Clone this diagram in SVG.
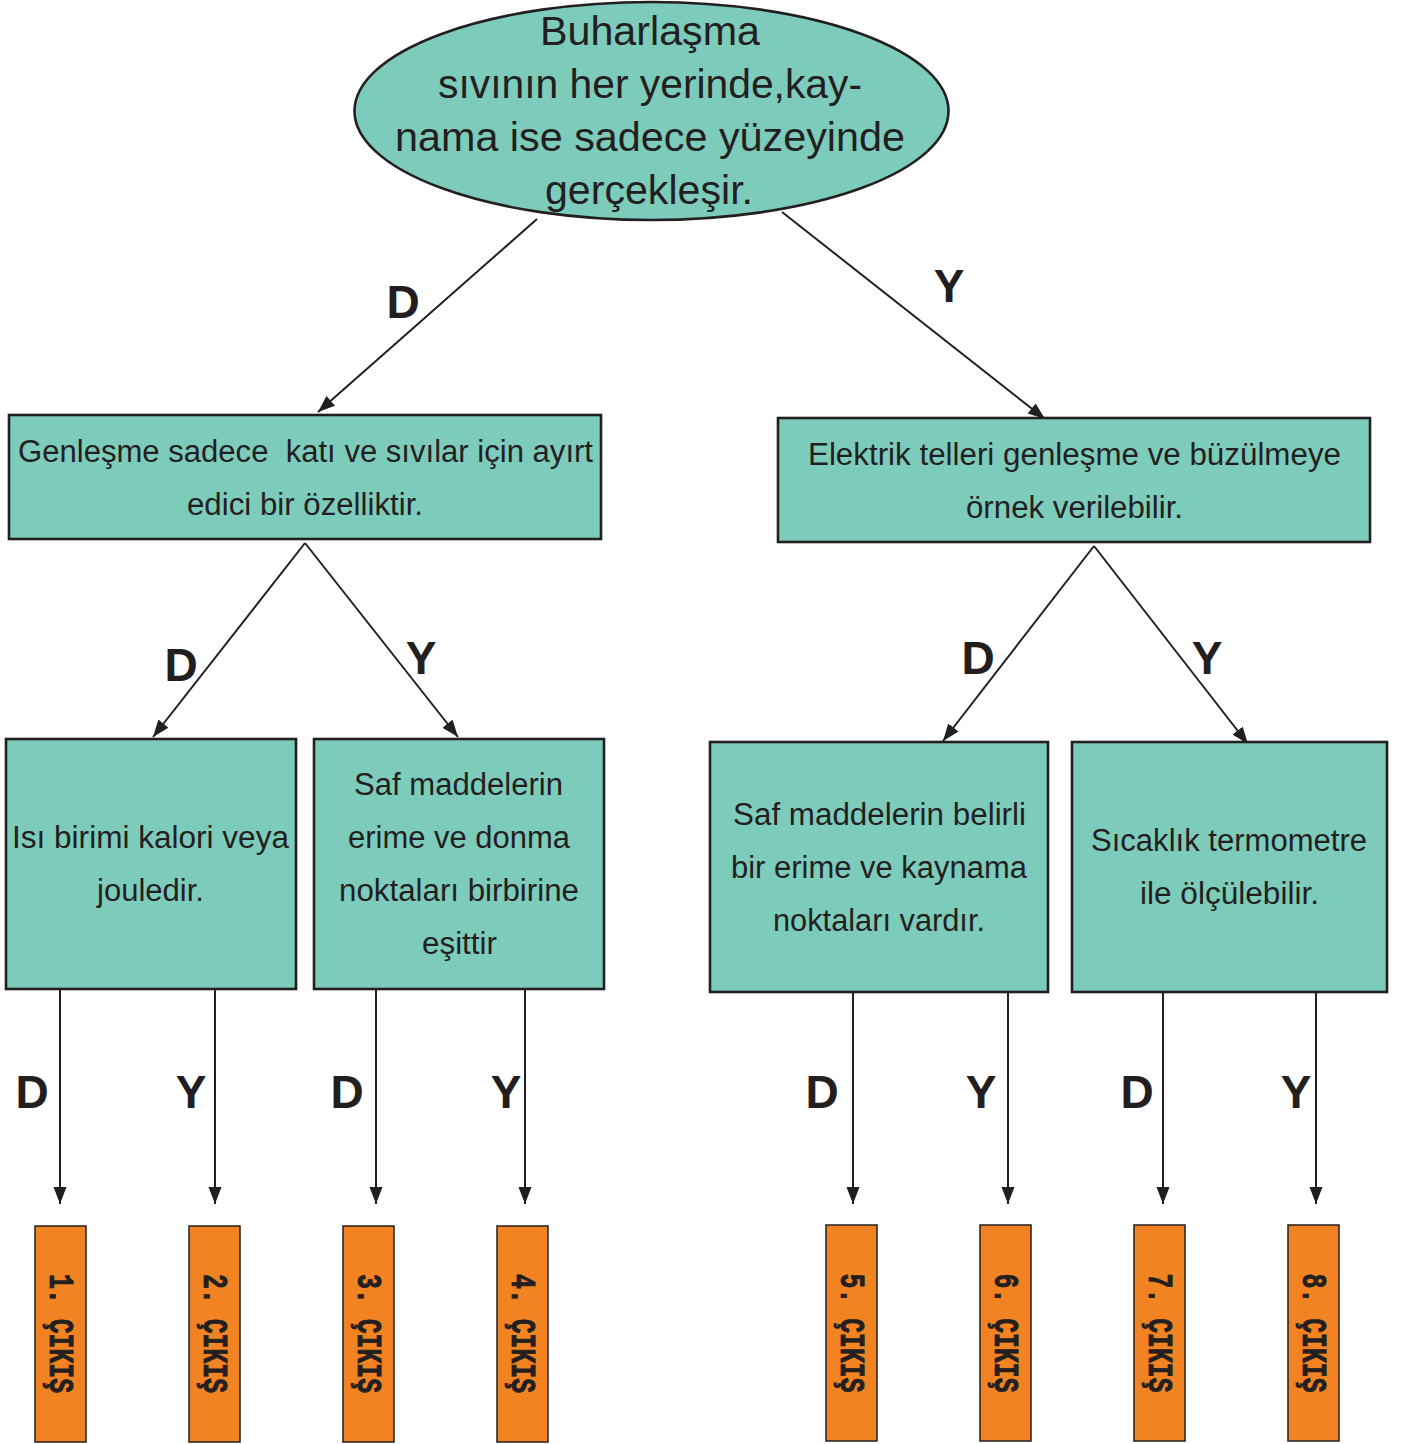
<svg xmlns="http://www.w3.org/2000/svg" width="1401" height="1444" viewBox="0 0 1401 1444">
<defs>
<style>
.n{fill:#7ccbbb;stroke:#231f20;stroke-width:2.6}
.o{fill:#f28322;stroke:#231f20;stroke-width:1.5}
.t{font-family:"Liberation Sans",Arial,sans-serif;fill:#231f20;text-anchor:middle}
.e{font-size:41px}
.b{font-size:31px}
.l{font-family:"Liberation Sans",Arial,sans-serif;font-weight:bold;font-size:46px;fill:#231f20;text-anchor:middle}
.c{font-family:"Liberation Mono","Courier New",monospace;font-weight:bold;font-size:26px;fill:#231f20;stroke:#231f20;stroke-width:0.7;text-anchor:middle}
.k{stroke:#231f20;stroke-width:2;fill:none}
</style>
<marker id="a" markerUnits="userSpaceOnUse" markerWidth="18" markerHeight="14" refX="17" refY="6.5" orient="auto"><path d="M0,0 L17,6.5 L0,13 z" fill="#231f20"/></marker>
</defs>
<rect width="1401" height="1444" fill="#fff"/>
<g id="connectors" class="k" marker-end="url(#a)">
<line x1="537" y1="219" x2="318" y2="412"/>
<line x1="782" y1="212" x2="1045" y2="419"/>
<line x1="305" y1="543" x2="153" y2="737"/>
<line x1="305" y1="543" x2="458" y2="737"/>
<line x1="1094" y1="546" x2="943" y2="741"/>
<line x1="1094" y1="546" x2="1248" y2="744"/>
<line x1="60" y1="989" x2="60" y2="1204"/>
<line x1="215" y1="989" x2="215" y2="1204"/>
<line x1="376" y1="989" x2="376" y2="1204"/>
<line x1="525" y1="989" x2="525" y2="1204"/>
<line x1="853" y1="992" x2="853" y2="1204"/>
<line x1="1008" y1="992" x2="1008" y2="1204"/>
<line x1="1163" y1="992" x2="1163" y2="1204"/>
<line x1="1316" y1="992" x2="1316" y2="1204"/>
</g>
<g id="labels">
<text class="l" x="403" y="318">D</text>
<text class="l" x="949" y="302">Y</text>
<text class="l" x="181" y="681">D</text>
<text class="l" x="421" y="674">Y</text>
<text class="l" x="978" y="674">D</text>
<text class="l" x="1207" y="674">Y</text>
<text class="l" x="32" y="1108">D</text>
<text class="l" x="191" y="1108">Y</text>
<text class="l" x="347" y="1108">D</text>
<text class="l" x="506" y="1108">Y</text>
<text class="l" x="822" y="1108">D</text>
<text class="l" x="981" y="1108">Y</text>
<text class="l" x="1137" y="1108">D</text>
<text class="l" x="1296" y="1108">Y</text>
</g>
<g id="root">
<ellipse class="n" cx="651.5" cy="111" rx="297" ry="109"/>
<text class="t e" x="650" y="45" textLength="220" lengthAdjust="spacingAndGlyphs">Buharlaşma</text>
<text class="t e" x="650" y="98" textLength="424" lengthAdjust="spacingAndGlyphs">sıvının her yerinde,kay-</text>
<text class="t e" x="650" y="151" textLength="510" lengthAdjust="spacingAndGlyphs">nama ise sadece yüzeyinde</text>
<text class="t e" x="649" y="204" textLength="208" lengthAdjust="spacingAndGlyphs">gerçekleşir.</text>
</g>
<g id="n1">
<rect class="n" x="9" y="415" width="592" height="124"/>
<text class="t b" x="305.5" y="462" textLength="575" lengthAdjust="spacingAndGlyphs" xml:space="preserve">Genleşme sadece  katı ve sıvılar için ayırt</text>
<text class="t b" x="305" y="515" textLength="236" lengthAdjust="spacingAndGlyphs">edici bir özelliktir.</text>
</g>
<g id="n2">
<rect class="n" x="778" y="418" width="592" height="124"/>
<text class="t b" x="1074.5" y="465" textLength="533" lengthAdjust="spacingAndGlyphs">Elektrik telleri genleşme ve büzülmeye</text>
<text class="t b" x="1074.5" y="518" textLength="217" lengthAdjust="spacingAndGlyphs">örnek verilebilir.</text>
</g>
<g id="n3">
<rect class="n" x="6" y="739" width="290" height="250"/>
<text class="t b" x="150.5" y="848" textLength="277" lengthAdjust="spacingAndGlyphs">Isı birimi kalori veya</text>
<text class="t b" x="150.5" y="901" textLength="107" lengthAdjust="spacingAndGlyphs">jouledir.</text>
</g>
<g id="n4">
<rect class="n" x="314" y="739" width="290" height="250"/>
<text class="t b" x="458.5" y="795" textLength="209" lengthAdjust="spacingAndGlyphs">Saf maddelerin</text>
<text class="t b" x="459" y="848" textLength="222" lengthAdjust="spacingAndGlyphs">erime ve donma</text>
<text class="t b" x="459" y="901" textLength="240" lengthAdjust="spacingAndGlyphs">noktaları birbirine</text>
<text class="t b" x="459.5" y="954" textLength="75" lengthAdjust="spacingAndGlyphs">eşittir</text>
</g>
<g id="n5">
<rect class="n" x="710" y="742" width="338" height="250"/>
<text class="t b" x="879.5" y="825" textLength="293" lengthAdjust="spacingAndGlyphs">Saf maddelerin belirli</text>
<text class="t b" x="879" y="878" textLength="296" lengthAdjust="spacingAndGlyphs">bir erime ve kaynama</text>
<text class="t b" x="879" y="931" textLength="212" lengthAdjust="spacingAndGlyphs">noktaları vardır.</text>
</g>
<g id="n6">
<rect class="n" x="1072" y="742" width="315" height="250"/>
<text class="t b" x="1229" y="851" textLength="276" lengthAdjust="spacingAndGlyphs">Sıcaklık termometre</text>
<text class="t b" x="1229.5" y="904" textLength="179" lengthAdjust="spacingAndGlyphs">ile ölçülebilir.</text>
</g>
<g id="out1"><rect class="o" x="35" y="1226" width="51" height="216"/><text class="c" transform="translate(50,1333.5) scale(1.35,1) rotate(90)" textLength="119" lengthAdjust="spacingAndGlyphs">1. ÇIKIŞ</text></g>
<g id="out2"><rect class="o" x="189" y="1226" width="51" height="216"/><text class="c" transform="translate(204,1333.5) scale(1.35,1) rotate(90)" textLength="119" lengthAdjust="spacingAndGlyphs">2. ÇIKIŞ</text></g>
<g id="out3"><rect class="o" x="343" y="1226" width="51" height="216"/><text class="c" transform="translate(358,1333.5) scale(1.35,1) rotate(90)" textLength="119" lengthAdjust="spacingAndGlyphs">3. ÇIKIŞ</text></g>
<g id="out4"><rect class="o" x="497" y="1226" width="51" height="216"/><text class="c" transform="translate(512,1333.5) scale(1.35,1) rotate(90)" textLength="119" lengthAdjust="spacingAndGlyphs">4. ÇIKIŞ</text></g>
<g id="out5"><rect class="o" x="826" y="1225" width="51" height="216"/><text class="c" transform="translate(841,1333) scale(1.35,1) rotate(90)" textLength="119" lengthAdjust="spacingAndGlyphs">5. ÇIKIŞ</text></g>
<g id="out6"><rect class="o" x="980" y="1225" width="51" height="216"/><text class="c" transform="translate(995,1333) scale(1.35,1) rotate(90)" textLength="119" lengthAdjust="spacingAndGlyphs">6. ÇIKIŞ</text></g>
<g id="out7"><rect class="o" x="1134" y="1225" width="51" height="216"/><text class="c" transform="translate(1149,1333) scale(1.35,1) rotate(90)" textLength="119" lengthAdjust="spacingAndGlyphs">7. ÇIKIŞ</text></g>
<g id="out8"><rect class="o" x="1288" y="1225" width="51" height="216"/><text class="c" transform="translate(1303,1333) scale(1.35,1) rotate(90)" textLength="119" lengthAdjust="spacingAndGlyphs">8. ÇIKIŞ</text></g>
</svg>
